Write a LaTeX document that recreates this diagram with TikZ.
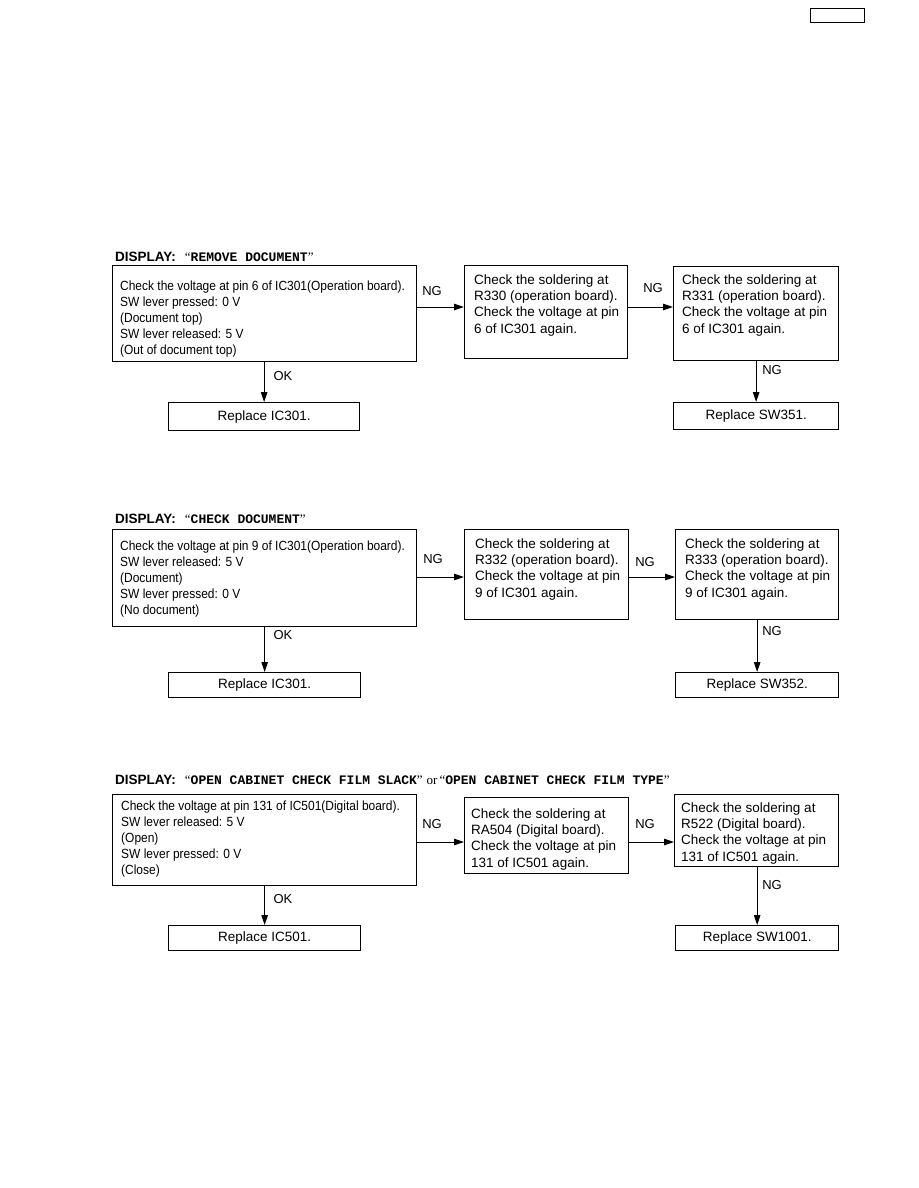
\documentclass[tikz,border=0pt]{standalone}
\usepackage{fontspec}
\setmainfont{Liberation Sans}
\newfontfamily\serifq{Liberation Serif}
\newfontfamily\monob{Liberation Mono}
\newfontfamily\condsans{Liberation Sans}[FakeStretch=0.9]
\usetikzlibrary{arrows.meta}
\tikzset{
 box/.style={draw, line width=1.3pt, inner sep=0pt, anchor=north west, font=\fontsize{13.5}{16}\selectfont},
 txt/.style={inner sep=0pt, anchor=base west, align=left, font=\condsans\fontsize{13.3}{16}\selectfont},
 stxt/.style={inner sep=0pt, anchor=base west, align=left, font=\fontsize{13.5}{16.3}\selectfont},
 lab/.style={inner sep=0pt, font=\fontsize{13}{14}\selectfont},
 arr/.style={line width=1pt, -{Triangle[length=10pt,width=6.5pt]}},
 hdr/.style={inner sep=0pt, anchor=base west}
}
\newcommand{\disp}{{\fontsize{13.5}{16}\selectfont\bfseries DISPLAY:}}
\newcommand{\oq}{{\serifq\fontsize{13}{16}\selectfont “}}
\newcommand{\cq}{{\serifq\fontsize{13}{16}\selectfont ”}}
\newcommand{\mono}[1]{{\monob\bfseries\fontsize{13}{16}\selectfont #1}}
\begin{document}
\begin{tikzpicture}[x=1pt,y=-1pt]
\fill[white] (0,0) rectangle (918,1188);
\useasboundingbox (0,0) rectangle (918,1188);

% top-right empty box
\node[draw, line width=1.3pt, inner sep=0pt, minimum width=54pt, minimum height=14pt, anchor=north west] (tag) at (810,8) {};

% ===== Section 1 =====
\node[hdr] (H1) at (115,261) {\disp\hspace{9pt}\oq\mono{REMOVE DOCUMENT}\cq};
\node[box, minimum width=304pt, minimum height=96pt] (A1) at (112,265) {};
\node[txt] (A1t) at (120,354) {Check the voltage at pin 6 of IC301(Operation board).\\SW lever pressed: 0 V\\(Document top)\\SW lever released: 5 V\\(Out of document top)};
\node[box, minimum width=163pt, minimum height=93pt] (B1) at (464,265) {};
\node[stxt] (B1t) at (474,333) {Check the soldering at\\R330 (operation board).\\Check the voltage at pin\\6 of IC301 again.};
\node[box, minimum width=165pt, minimum height=94pt] (C1) at (673,266) {};
\node[stxt] (C1t) at (682,333) {Check the soldering at\\R331 (operation board).\\Check the voltage at pin\\6 of IC301 again.};
\node[box, minimum width=191pt, minimum height=28pt] (R1) at (168,402) {Replace IC301.};
\node[box, minimum width=165pt, minimum height=27pt] (S1) at (673,402) {Replace SW351.};
\coordinate (y1) at (0,307);
\draw[arr] (A1.east |- y1) -- (B1.west |- y1);
\draw[arr] (B1.east |- y1) -- (C1.west |- y1);
\draw[arr] (A1.south -| R1.north) -- (R1.north);
\draw[arr] (C1.south -| S1.north) -- (S1.north);
\node[lab] (n11) at (432,291) {NG};
\node[lab] (n12) at (653,288) {NG};
\node[lab] (o1) at (283,376) {OK};
\node[lab] (n13) at (772,370) {NG};

% ===== Section 2 =====
\node[hdr] (H2) at (115,523) {\disp\hspace{9pt}\oq\mono{CHECK DOCUMENT}\cq};
\node[box, minimum width=304pt, minimum height=97pt] (A2) at (112,529) {};
\node[txt] (A2t) at (120,614) {Check the voltage at pin 9 of IC301(Operation board).\\SW lever released: 5 V\\(Document)\\SW lever pressed: 0 V\\(No document)};
\node[box, minimum width=164pt, minimum height=90pt] (B2) at (464,529) {};
\node[stxt] (B2t) at (475,597) {Check the soldering at\\R332 (operation board).\\Check the voltage at pin\\9 of IC301 again.};
\node[box, minimum width=163pt, minimum height=90pt] (C2) at (675,529) {};
\node[stxt] (C2t) at (685,597) {Check the soldering at\\R333 (operation board).\\Check the voltage at pin\\9 of IC301 again.};
\node[box, minimum width=192pt, minimum height=25pt] (R2) at (168,672) {Replace IC301.};
\node[box, minimum width=163pt, minimum height=25pt] (S2) at (675,672) {Replace SW352.};
\coordinate (y2) at (0,577);
\draw[arr] (A2.east |- y2) -- (B2.west |- y2);
\draw[arr] (B2.east |- y2) -- (C2.west |- y2);
\draw[arr] (A2.south -| R2.north) -- (R2.north);
\draw[arr] (C2.south -| S2.north) -- (S2.north);
\node[lab] (n21) at (433,559) {NG};
\node[lab] (n22) at (645,562) {NG};
\node[lab] (o2) at (283,635) {OK};
\node[lab] (n23) at (772,631) {NG};

% ===== Section 3 =====
\node[hdr] (H3) at (115,784) {\disp\hspace{9pt}\oq\mono{OPEN CABINET CHECK FILM SLACK}\cq\hspace{4pt}{\serifq\fontsize{13}{16}\selectfont or}\hspace{2pt}\oq\mono{OPEN CABINET CHECK FILM TYPE}\cq};
\node[box, minimum width=304pt, minimum height=91pt] (A3) at (112,794) {};
\node[txt] (A3t) at (121,874) {Check the voltage at pin 131 of IC501(Digital board).\\SW lever released: 5 V\\(Open)\\SW lever pressed: 0 V\\(Close)};
\node[box, minimum width=164pt, minimum height=76pt] (B3) at (464,797) {};
\node[stxt] (B3t) at (471,867) {Check the soldering at\\RA504 (Digital board).\\Check the voltage at pin\\131 of IC501 again.};
\node[box, minimum width=164pt, minimum height=72pt] (C3) at (674,794) {};
\node[stxt] (C3t) at (681,861) {Check the soldering at\\R522 (Digital board).\\Check the voltage at pin\\131 of IC501 again.};
\node[box, minimum width=192pt, minimum height=25pt] (R3) at (168,925) {Replace IC501.};
\node[box, minimum width=163pt, minimum height=25pt] (S3) at (675,925) {Replace SW1001.};
\coordinate (y3) at (0,842);
\draw[arr] (A3.east |- y3) -- (B3.west |- y3);
\draw[arr] (B3.east |- y3) -- (C3.west |- y3);
\draw[arr] (A3.south -| R3.north) -- (R3.north);
\draw[arr] (C3.south -| S3.north) -- (S3.north);
\node[lab] (n31) at (432,824) {NG};
\node[lab] (n32) at (645,824) {NG};
\node[lab] (o3) at (283,899) {OK};
\node[lab] (n33) at (772,885) {NG};
\end{tikzpicture}
\end{document}
